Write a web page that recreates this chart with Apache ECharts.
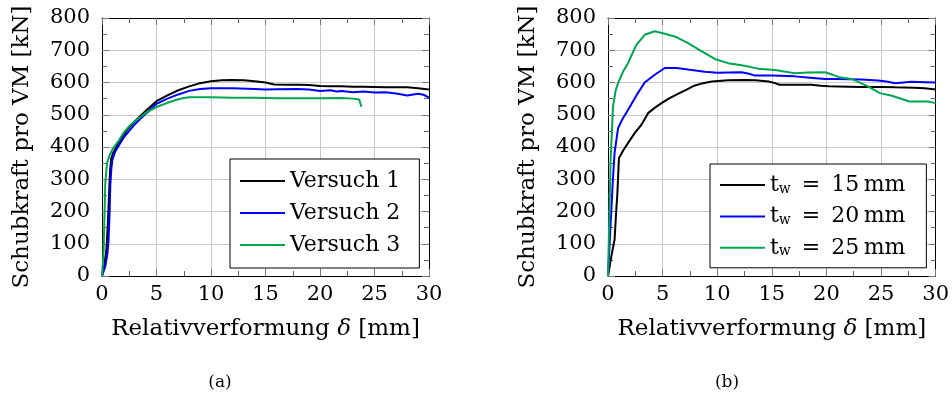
<!DOCTYPE html>
<html>
<head>
<meta charset="utf-8">
<script src="https://cdn.jsdelivr.net/npm/echarts@6/dist/echarts.min.js"></script>
<style>
html,body{margin:0;padding:0;background:#fff;}
#c{width:952px;height:396px;}
</style>
</head>
<body>
<div id="c"></div>
<script>
// ---------- data (a) ----------
const v1X = [0,0.2,0.4,0.55,0.65,0.75,0.85,1.0,1.4,1.8,2.3,2.8,3.4,4.0,5.0,6.0,7.0,8.0,9.0,10,11,12,13,14,15,15.8,17,18,19,20,21,22,23,24,25,26,27,28,29,30];
const v1Y = [0,30,80,170,260,330,365,380,405,425,453,472,492,512,542,560,576,588,598,604,607,608,607,604,600,594,593,593,592,589,588,588,587,587,586,585,585,585,582,578];
const v2X = [0,0.3,0.5,0.6,0.7,0.76,0.85,0.95,1.2,1.6,2.0,2.5,3.0,3.5,4.0,4.5,5.0,6.0,7.0,8.0,9.0,10,12,14,15,16,18,19,20,21,21.5,22,23,24,25,26,27,28,29,29.5,30];
const v2Y = [0,30,70,110,200,280,330,360,385,408,430,450,470,487,502,518,534,550,563,574,580,582,582,580,578,579,580,578,574,576,572,574,570,572,569,570,566,560,565,562,553];
const v3X = [0,0.15,0.3,0.46,0.7,1.0,1.5,2.0,2.5,3.0,3.5,4.0,4.5,5.0,6.0,7.0,7.5,8,10,12,14,16,18,20,22,23,23.6,23.8];
const v3Y = [0,80,288,350,375,395,418,445,465,480,492,505,515,524,537,548,552,554,554,553,553,551,551,551,552,550,547,525];
// ---------- data (b) ----------
const t15X = [0,0.3,0.6,0.75,0.86,1.0,1.4,1.83,2.44,3.06,3.67,4.3,4.9,5.6,6.4,7.2,7.9,8.7,9.5,11,12.5,13.5,14.7,15.3,15.7,17,18.6,19.5,20.2,22,23.2,25,26.3,28,29,30];
const t15Y = [0,60,112,200,257,365,390,412,443,469,505,522,536,551,565,578,590,598,603,607,608,607,603,598,593,593,593,590,588,587,586,586,585,584,582,578];
const t20X = [0,0.15,0.3,0.45,0.6,0.92,1.3,1.83,2.6,3.36,4.28,5.2,6.26,7.33,8.86,10,11,12.2,12.8,13.4,15,17.1,18.5,19.86,21,23.2,24.7,25.5,26.3,27.8,29,30];
const t20Y = [0,101,200,300,381,458,485,515,560,600,624,645,645,640,633,630,631,632,628,622,622,619,615,611,611,609,606,603,598,602,601,600];
const t25X = [0,0.1,0.24,0.46,0.7,0.92,1.4,1.83,2.6,3.36,4.28,5.2,6.26,7.33,8.55,9.78,11,12.5,13.75,15.3,17.1,18.3,19.86,20.5,21.2,22.3,23.8,24.9,26,27.6,29.3,30];
const t25Y = [0,150,360,526,575,598,635,660,717,748,759,751,741,722,697,673,660,652,643,639,629,631,632,625,616,611,588,567,559,541,541,536];
// ---------- labels ----------
const namesA = ['Versuch 1','Versuch 2','Versuch 3'];
const namesB = ['t15','t20','t25'];
const legendB = {t15:'15', t20:'20', t25:'25'};
const xName = 'Relativverformung {i|δ} [mm]';
const yName = 'Schubkraft pro VM [kN]';
const captions = ['(a)', '(b)'];

const FONT = "'DejaVu Serif', serif";
const FS = 21;      // tick labels
const FN = 23;      // axis names
const FL = 22;      // legend
const BLACK = '#000000', BLUE = '#0000ff', GREEN = '#00a650';
const pairs = (xs, ys) => xs.map((x, i) => [x, ys[i]]);
const LINE_ICON = 'path://M0,0H45V2H0Z';

function xAx(grid, top) {
  return {
    type: 'value', gridIndex: grid, position: top ? 'top' : 'bottom',
    min: 0, max: 30, interval: 5,
    axisLine: {show: true, onZero: false, lineStyle: {color: '#000', width: 1}},
    axisTick: {show: true, inside: true, length: 7, lineStyle: {color: '#777'}},
    minorTick: {show: true, splitNumber: 2, length: 5, lineStyle: {color: '#666'}},
    splitLine: {show: !top, lineStyle: {color: '#c8c8c8', width: 1}},
    axisLabel: {show: !top, fontFamily: FONT, fontSize: FS, color: '#000', margin: 8},
    name: top ? '' : xName, nameLocation: 'middle', nameGap: 42,
    nameTextStyle: {fontFamily: FONT, fontSize: FN, color: '#000',
      rich: {i: {fontFamily: FONT, fontStyle: 'italic', fontSize: FN, color: '#000'}}}
  };
}
function yAx(grid, right) {
  return {
    type: 'value', gridIndex: grid, position: right ? 'right' : 'left',
    min: 0, max: 800, interval: 100,
    axisLine: {show: true, onZero: false, lineStyle: {color: '#000', width: 1}},
    axisTick: {show: true, inside: true, length: 7, lineStyle: {color: '#777'}},
    minorTick: {show: true, splitNumber: 2, length: 5, lineStyle: {color: '#666'}},
    splitLine: {show: !right, lineStyle: {color: '#c8c8c8', width: 1}},
    axisLabel: {show: !right, fontFamily: FONT, fontSize: FS, color: '#000', margin: 12},
    name: right ? '' : yName, nameLocation: 'middle', nameGap: 68, nameRotate: 90,
    nameTextStyle: {fontFamily: FONT, fontSize: FN, color: '#000'}
  };
}
function ser(name, xi, data, color) {
  return {
    name: name, type: 'line', xAxisIndex: xi, yAxisIndex: xi,
    data: data, showSymbol: false, symbol: 'none', smooth: false,
    lineStyle: {color: color, width: 2}, itemStyle: {color: color},
    emphasis: {disabled: true}, animation: false, z: 3
  };
}
function legendBox(left, top, data, padding, gap, formatter) {
  return {
    show: true, orient: 'vertical', left: left, top: top, data: data,
    icon: LINE_ICON, symbolKeepAspect: true,
    backgroundColor: '#fff', borderColor: '#000', borderWidth: 1, borderRadius: 0,
    padding: padding, itemWidth: 45, itemHeight: 22, itemGap: gap,
    selectedMode: false, formatter: formatter,
    textStyle: {fontFamily: FONT, fontSize: FL, color: '#000', lineHeight: 22,
      rich: {
        n: {fontFamily: FONT, fontSize: FL, color: '#000', lineHeight: 22},
        s: {fontFamily: FONT, fontSize: 14, color: '#000', lineHeight: 13, verticalAlign: 'bottom'},
        p: {width: 7, lineHeight: 22}
      }}
  };
}

const chart = echarts.init(document.getElementById('c'), null, {renderer: 'canvas'});
chart.setOption({
  animation: false,
  backgroundColor: '#fff',
  textStyle: {fontFamily: FONT, color: '#000'},
  grid: [
    {left: 102, top: 18, width: 327, height: 258, containLabel: false},
    {left: 608, top: 18, width: 328, height: 258, containLabel: false}
  ],
  xAxis: [xAx(0, false), xAx(0, true), xAx(1, false), xAx(1, true)],
  yAxis: [yAx(0, false), yAx(0, true), yAx(1, false), yAx(1, true)],
  legend: [
    legendBox(230, 159, namesA, [11, 12, 12, 10], 10, n => '{n|' + n + '}{p|}'),
    legendBox(710, 164, namesB, [10, 14, 9, 10], 9.4,
      n => '{n|t}{s|w}{n|\u2002=\u2002' + legendB[n] + '\u2009mm}{p|}')
  ],
  series: [
    ser(namesA[0], 0, pairs(v1X, v1Y), BLACK),
    ser(namesA[1], 0, pairs(v2X, v2Y), BLUE),
    ser(namesA[2], 0, pairs(v3X, v3Y), GREEN),
    ser(namesB[0], 2, pairs(t15X, t15Y), BLACK),
    ser(namesB[1], 2, pairs(t20X, t20Y), BLUE),
    ser(namesB[2], 2, pairs(t25X, t25Y), GREEN)
  ],
  graphic: [
    {type: 'text', x: 220, y: 383, style: {text: captions[0], fontFamily: FONT, fontSize: 17, fill: '#000', textAlign: 'center', textVerticalAlign: 'middle'}},
    {type: 'text', x: 727, y: 383, style: {text: captions[1], fontFamily: FONT, fontSize: 17, fill: '#000', textAlign: 'center', textVerticalAlign: 'middle'}}
  ]
});
</script>
</body>
</html>
